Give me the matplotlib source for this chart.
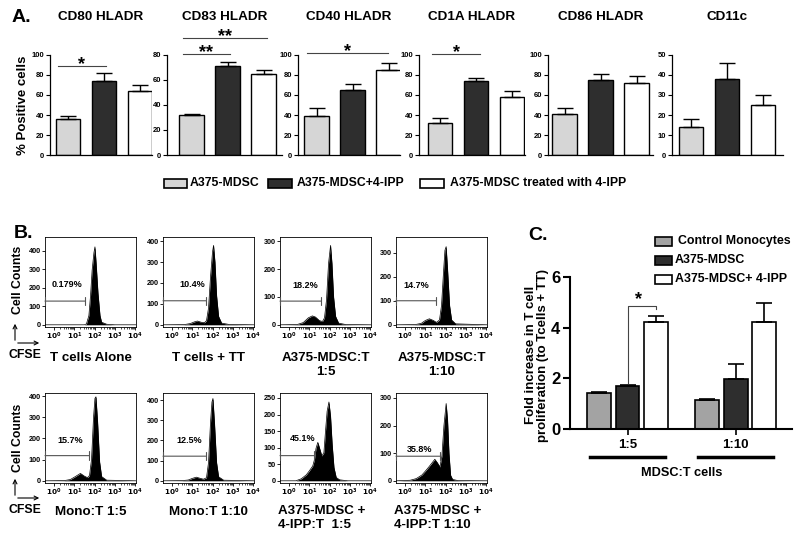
import matplotlib
matplotlib.use("Agg")
import matplotlib.pyplot as plt
from matplotlib.patches import Rectangle, FancyArrowPatch
import numpy as np

plt.rcParams['font.family'] = ['Liberation Sans', 'DejaVu Sans']
plt.rcParams['font.weight'] = 'bold'
plt.rcParams['axes.labelweight'] = 'bold'
plt.rcParams['axes.linewidth'] = 0.9

W, H = 800, 538

# ---------------- panel A data ----------------
markers = ["CD80 HLADR", "CD83 HLADR", "CD40 HLADR", "CD1A HLADR", "CD86 HLADR", "CD11c"]
groups_a = ["A375-MDSC", "A375-MDSC+4-IPP", "A375-MDSC treated with 4-IPP"]
mdsc = [36, 32, 39, 32, 41, 14]
mdsc_ipp = [74, 71, 65, 74, 75, 38]
mdsc_treated = [64, 65, 85, 58, 72, 25]
mdsc_err = [3, 1, 8, 5, 6, 4]
mdsc_ipp_err = [8, 3, 6, 3, 6, 8]
mdsc_treated_err = [6, 3, 7, 6, 7, 5]
ymax_a = [100, 80, 100, 100, 100, 50]
ystep_a = [20, 20, 20, 20, 20, 10]

# significance: panel, x from, x to, line height, stars
sig_panel = [0, 1, 1, 2, 3]
sig_x0 = [-0.28, -0.24, -0.24, -0.26, -0.22]
sig_x1 = [1.05, 1.07, 2.1, 1.99, 1.11]
sig_y = [89, 81, 93.6, 102, 101]
sig_txt = ["*", "**", "**", "*", "*"]

# ---------------- panel B data (log10 CFSE, cell counts) ----------------
hist_titles = ["T cells Alone", "T cells + TT", "A375-MDSC:T\n1:5", "A375-MDSC:T\n1:10",
               "Mono:T 1:5", "Mono:T 1:10", "A375-MDSC +\n4-IPP:T  1:5", "A375-MDSC +\n4-IPP:T 1:10"]
t_alone_log = [-0.45, 1.5, 1.6, 1.72, 1.8, 1.88, 1.97, 2.02, 2.08, 2.17, 2.27, 2.35, 2.6, 3.0, 4.05]
t_alone_cnt = [0, 0, 5, 50, 155, 295, 390, 421, 330, 172, 50, 14, 3, 0, 0]
t_tt_log = [-0.45, 0.6, 0.9, 1.1, 1.25, 1.45, 1.6, 1.7, 1.8, 1.9, 2.0, 2.05, 2.12, 2.2, 2.3, 2.45, 2.8, 4.05]
t_tt_cnt = [0, 1, 6, 14, 18, 12, 10, 20, 80, 230, 350, 380, 300, 140, 40, 8, 2, 0]
mdsc5_log = [-0.45, 0.4, 0.7, 0.95, 1.15, 1.3, 1.5, 1.65, 1.75, 1.85, 1.95, 2.05, 2.12, 2.2, 2.3, 2.45, 2.8, 4.05]
mdsc5_cnt = [0, 1, 8, 25, 32, 28, 15, 12, 25, 90, 220, 285, 220, 100, 30, 6, 1, 0]
mdsc10_log = [-0.45, 0.5, 0.8, 1.0, 1.2, 1.4, 1.55, 1.7, 1.8, 1.9, 1.97, 2.03, 2.1, 2.2, 2.3, 2.5, 4.05]
mdsc10_cnt = [0, 1, 6, 18, 25, 18, 10, 20, 80, 220, 310, 325, 230, 80, 20, 4, 0]
mono5_log = [-0.45, 0.5, 0.8, 1.05, 1.3, 1.5, 1.65, 1.75, 1.85, 1.95, 2.02, 2.07, 2.15, 2.25, 2.35, 2.6, 4.05]
mono5_cnt = [0, 1, 6, 20, 35, 22, 15, 25, 100, 300, 390, 397, 280, 90, 20, 3, 0]
mono10_log = [-0.45, 0.5, 0.8, 1.0, 1.2, 1.4, 1.55, 1.7, 1.8, 1.9, 1.97, 2.02, 2.1, 2.2, 2.3, 2.55, 4.05]
mono10_cnt = [0, 1, 4, 12, 18, 12, 8, 15, 90, 290, 390, 408, 280, 90, 20, 3, 0]
ipp5_log = [-0.45, 0.33, 0.6, 0.85, 1.0, 1.17, 1.25, 1.33, 1.42, 1.5, 1.62, 1.72, 1.8, 1.88,
            1.97, 2.05, 2.13, 2.22, 2.33, 2.5, 2.9, 4.05]
ipp5_cnt = [0, 0, 6, 18, 30, 45, 63, 98, 116, 100, 75, 85, 150, 210, 238, 195, 110, 40, 10, 3, 0, 0]
ipp10_log = [-0.45, 0.25, 0.55, 0.83, 1.0, 1.17, 1.3, 1.47, 1.6, 1.72, 1.82, 1.92, 2.03, 2.1,
             2.17, 2.25, 2.35, 2.6, 4.05]
ipp10_cnt = [0, 2, 8, 21, 35, 50, 62, 78, 65, 50, 90, 200, 280, 220, 100, 20, 5, 1, 0]
hist_logs = [t_alone_log, t_tt_log, mdsc5_log, mdsc10_log, mono5_log, mono10_log, ipp5_log, ipp10_log]
hist_cnts = [t_alone_cnt, t_tt_cnt, mdsc5_cnt, mdsc10_cnt, mono5_cnt, mono10_cnt, ipp5_cnt, ipp10_cnt]
hist_ymax = [474, 420, 315, 365, 415, 435, 265, 318]
hist_ystep = [100, 100, 100, 100, 100, 100, 50, 100]
gate_pct = ["0.179%", "10.4%", "18.2%", "14.7%", "15.7%", "12.5%", "45.1%", "35.8%"]
gate_end = [1.52, 1.7, 1.6, 1.55, 1.75, 1.66, 1.25, 1.72]
gate_y = [128, 115, 85, 100, 119, 122, 76, 89]
label_x = [-0.12, 0.37, 0.15, -0.08, 0.17, 0.23, 0.05, 0.08]
label_y = [216, 195, 142, 162, 190, 200, 128, 115]

# ---------------- panel C data ----------------
ratios = ["1:5", "1:10"]
groups_c = ["Control Monocytes", "A375-MDSC", "A375-MDSC+ 4-IPP"]
fold_mono = [1.42, 1.15]
fold_mono_err = [0.03, 0.02]
fold_mdsc = [1.68, 1.97]
fold_mdsc_err = [0.05, 0.58]
fold_ipp = [4.24, 4.24]
fold_ipp_err = [0.22, 0.74]

fig = plt.figure(figsize=(8, 5.38), dpi=100)


def axes_px(left, top, right, bottom):
    return fig.add_axes([left / W, 1 - bottom / H, (right - left) / W, (bottom - top) / H])


def ftext(x, y, s, **kw):
    return fig.text(x / W, 1 - y / H, s, **kw)


def fbox(x0, y0, x1, y1, fc):
    fig.patches.append(Rectangle((x0 / W, 1 - y1 / H), (x1 - x0) / W, (y1 - y0) / H,
                                 transform=fig.transFigure, fc=fc, ec='k', lw=1.2))


# ---------------- panel A ----------------
colors_a = ['#d6d6d6', '#2e2e2e', 'white']
a_layout = [(50, 68, 152), (167, 191.5, 282), (298, 316.5, 400),
            (419, 440, 525), (548, 564.5, 653), (672, 691, 783)]
ftext(12, 17, "A.", fontsize=14, va='center')
for i in range(6):
    axl, c1, rend = a_layout[i]
    ax = axes_px(axl, 55, rend, 155)
    vals = [mdsc[i], mdsc_ipp[i], mdsc_treated[i]]
    errs = [mdsc_err[i], mdsc_ipp_err[i], mdsc_treated_err[i]]
    ax.bar(range(3), vals, width=0.67, color=colors_a, edgecolor='k', lw=1)
    ax.errorbar(range(3), vals, yerr=[[0, 0, 0], errs], fmt='none', ecolor='k',
                elinewidth=1, capsize=6, capthick=1)
    ax.set_xlim((axl - c1) / 36, (rend - c1) / 36)
    ax.set_ylim(0, ymax_a[i])
    ax.set_yticks(np.arange(0, ymax_a[i] + 1, ystep_a[i]))
    ax.set_xticks([])
    ax.spines[['top', 'right']].set_visible(False)
    ax.tick_params(axis='y', labelsize=5.5, length=3, width=0.8, pad=1)
    ftext((axl + rend) / 2, 17, markers[i], fontsize=9.7, ha='center', va='center')
    for k in range(len(sig_panel)):
        if sig_panel[k] == i:
            ax.plot([sig_x0[k], sig_x1[k]], [sig_y[k], sig_y[k]], color='#444444', lw=0.8, clip_on=False)
            ax.annotate(sig_txt[k], xy=((sig_x0[k] + sig_x1[k]) / 2, sig_y[k]), xytext=(0, -2.5),
                        textcoords='offset points', ha='center', va='baseline', fontsize=13,
                        annotation_clip=False)
    if i == 0:
        ax.set_ylabel("% Positive cells", fontsize=9.5, labelpad=2)

# legend A
leg_x = [(164, 187, 190), (268, 292, 297), (420, 444, 450)]
for j in range(3):
    x0, x1, tx = leg_x[j]
    fbox(x0, 179, x1, 188, colors_a[j])
    ftext(tx, 183.5, groups_a[j], fontsize=8.8, va='center')

# ---------------- panel B ----------------
ftext(14, 233, "B.", fontsize=14, va='center')
cols = [(45, 136), (163, 254), (280, 371), (396, 487)]
rows = [(237, 327), (393, 483)]
minor = [n + np.log10(k) for n in range(4) for k in range(2, 10)]
for i in range(8):
    r, c = divmod(i, 4)
    ax = axes_px(cols[c][0], rows[r][0], cols[c][1], rows[r][1])
    ax.fill_between(hist_logs[i], hist_cnts[i], color='black', lw=0)
    ax.plot(hist_logs[i], hist_cnts[i], color='black', lw=0.5)
    ax.set_xlim(-0.45, 4.05)
    ax.set_ylim(-hist_ymax[i] * 0.025, hist_ymax[i])
    ax.set_xticks(range(5))
    ax.set_xticklabels([r'$\mathbf{10^{%d}}$' % n for n in range(5)])
    ax.set_xticks(minor, minor=True)
    ax.set_yticks(np.arange(0, hist_ymax[i], hist_ystep[i]))
    ax.tick_params(labelsize=5.2, length=2, width=0.6, pad=1)
    ax.tick_params(which='minor', length=1.2, width=0.5)
    for s in ax.spines.values():
        s.set_linewidth(0.6)
    ax.annotate('', xy=(gate_end[i], gate_y[i]), xytext=(-0.45, gate_y[i]),
                arrowprops=dict(arrowstyle='|-|', color='#555555', lw=0.8,
                                mutation_scale=3, shrinkA=0, shrinkB=0))
    ax.text(label_x[i], label_y[i], gate_pct[i], fontsize=6.5, va='center', ha='left')
    cx = (cols[c][0] + cols[c][1]) / 2
    if r == 0:
        ftext(cx, 365 if '\n' in hist_titles[i] else 358, hist_titles[i], fontsize=9.6,
              ha='center', va='center', linespacing=1.2)
    else:
        if '\n' in hist_titles[i]:
            ftext(cols[c][0] - 2, 518, hist_titles[i], fontsize=9.6, ha='left', va='center',
                  linespacing=1.2)
        else:
            ftext(cx, 512, hist_titles[i], fontsize=9.6, ha='center', va='center')

for r, (cy, ay) in enumerate([(280, 343), (438, 498)]):
    ftext(18, cy, "Cell Counts", rotation=90, fontsize=8.8, ha='center', va='center')
    fig.add_artist(FancyArrowPatch((15 / W, 1 - ay / H), (15 / W, 1 - (ay - 22) / H),
                   transform=fig.transFigure, arrowstyle='->', mutation_scale=7, lw=0.8))
    fig.add_artist(FancyArrowPatch((15 / W, 1 - ay / H), (42 / W, 1 - ay / H),
                   transform=fig.transFigure, arrowstyle='->', mutation_scale=7, lw=0.8))
    ftext(25, ay + 12, "CFSE", fontsize=8.8, ha='center', va='center')

# ---------------- panel C ----------------
ftext(528, 235, "C.", fontsize=14, va='center')
colors_c = ['#a3a3a3', '#2e2e2e', 'white']
axc = axes_px(570, 277, 792, 429)
centers = np.array([0, 3.8])
series_c = [(fold_mono, fold_mono_err), (fold_mdsc, fold_mdsc_err), (fold_ipp, fold_ipp_err)]
for j, (v, e) in enumerate(series_c):
    axc.bar(centers + j - 1, v, width=0.84, color=colors_c[j], edgecolor='k', lw=1.2)
    axc.errorbar(centers + j - 1, v, yerr=[[0, 0], e], fmt='none', ecolor='k',
                 elinewidth=1.2, capsize=6, capthick=1.2)
axc.set_xlim((570 - 627.5) / 28.5, (792 - 627.5) / 28.5)
axc.set_ylim(0, 6)
axc.set_yticks([0, 2, 4, 6])
axc.set_xticks(centers)
axc.set_xticklabels(ratios)
axc.spines[['top', 'right']].set_visible(False)
for s in axc.spines.values():
    s.set_linewidth(1.5)
axc.tick_params(axis='y', labelsize=12, length=5, width=1.5, pad=2)
axc.tick_params(axis='x', labelsize=9.5, length=4, width=1.2, pad=3)
b2 = fold_mdsc[0] + fold_mdsc_err[0] + 0.1
axc.plot([0, 0, 1, 1], [b2, 4.86, 4.86, 4.72], color='#444444', lw=0.8, clip_on=False)
axc.annotate("*", xy=(0.4, 4.86), xytext=(0, 1), textcoords='offset points',
             fontsize=13, ha='center', va='baseline')
for cx in centers:
    axc.plot([cx - 1.32, cx + 1.32], [-1.1, -1.1], color='k', lw=2.5, clip_on=False)
ftext(682, 473, "MDSC:T cells", fontsize=9.2, ha='center', va='center')
ftext(537, 355, "Fold increase in T cell\nproliferation (to Tcells + TT)", rotation=90,
      fontsize=9.5, ha='center', va='center', multialignment='center', linespacing=1.05)
leg_rows = [241, 260, 279]
leg_tx = [678, 675, 675]
for j in range(3):
    fbox(655, leg_rows[j] - 4.5, 672, leg_rows[j] + 4.5, colors_c[j])
    ftext(leg_tx[j], leg_rows[j], groups_c[j], fontsize=8.9, va='center')

fig.savefig("out.png", dpi=100)
